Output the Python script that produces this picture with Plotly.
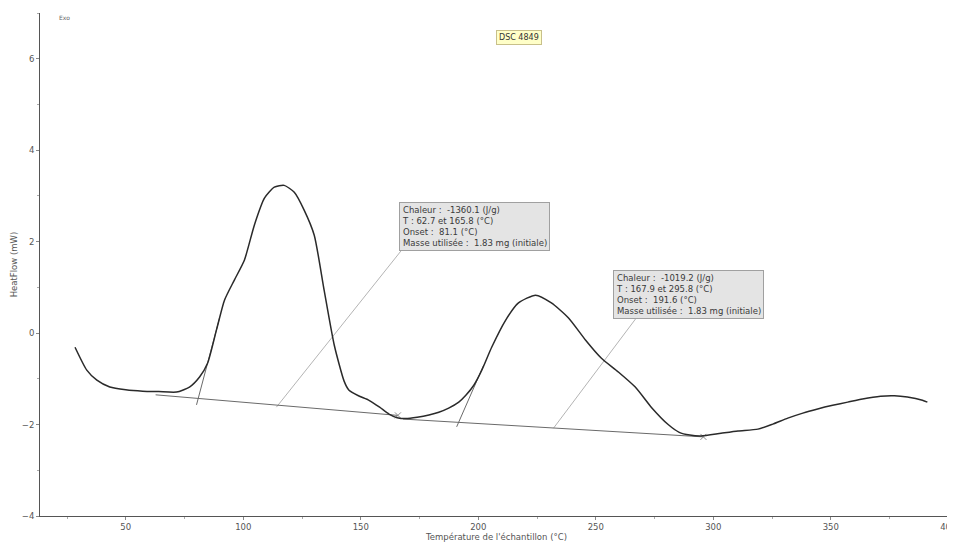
import plotly.graph_objects as go

# Main DSC curve
temp = [28.4, 33.4, 37.7, 43.2, 50.0, 57.2, 64.0, 71.6, 77.1, 81.4, 84.8, 88.6, 92.0, 96.2,
        100.5, 104.7, 109.0, 113.2, 117.4, 121.7, 125.9, 130.2, 134.4, 138.7, 142.9, 145.0,
        149.0, 153.5, 158.0, 162.0, 165.5, 169.2, 174.0, 179.0, 183.2, 187.4, 191.7, 194.7,
        198.1, 201.5, 205.7, 211.6, 217.1, 224.4, 231.1, 238.4, 245.6, 252.4, 259.6, 266.8,
        273.6, 280.8, 285.5, 290.0, 294.8, 303.3, 310.5, 319.0, 325.3, 331.7, 338.1, 344.4,
        350.8, 357.2, 363.5, 371.2, 377.1, 382.6, 389.0, 391.1]
heatflow = [-0.31, -0.81, -1.03, -1.18, -1.24, -1.27, -1.28, -1.29, -1.18, -0.96, -0.66, 0.07,
            0.72, 1.16, 1.60, 2.36, 2.95, 3.19, 3.23, 3.08, 2.69, 2.14, 0.94, -0.26, -1.05,
            -1.25, -1.37, -1.47, -1.62, -1.77, -1.85, -1.87, -1.84, -1.79, -1.73, -1.64, -1.51,
            -1.36, -1.14, -0.81, -0.31, 0.28, 0.66, 0.83, 0.66, 0.33, -0.15, -0.55, -0.85,
            -1.18, -1.62, -2.00, -2.17, -2.23, -2.25, -2.19, -2.14, -2.10, -1.99, -1.86, -1.75,
            -1.66, -1.58, -1.51, -1.44, -1.38, -1.37, -1.40, -1.47, -1.51]

# Integration baselines (start/end of each peak)
base1_x = [62.7, 165.8]
base1_y = [-1.35, -1.80]
base2_x = [167.9, 295.8]
base2_y = [-1.88, -2.27]

# Onset tangents
tan1_x = [80.1, 89.9]
tan1_y = [-1.57, 0.33]
tan2_x = [190.8, 202.3]
tan2_y = [-2.05, -0.70]

# Annotation connectors
con1_x = [168.4, 114.1]
con1_y = [1.88, -1.62]
con2_x = [268.1, 232.0]
con2_y = [0.39, -2.08]

box1_text = ["Chaleur :  -1360.1 (J/g)", "T : 62.7 et 165.8 (°C)", "Onset :  81.1 (°C)",
             "Masse utilisée :  1.83 mg (initiale)"]
box2_text = ["Chaleur :  -1019.2 (J/g)", "T : 167.9 et 295.8 (°C)", "Onset :  191.6 (°C)",
             "Masse utilisée :  1.83 mg (initiale)"]
box1_pos = (166.2, 2.86)
box2_pos = (257.5, 1.38)

x_ticks = [50, 100, 150, 200, 250, 300, 350, 400]
y_ticks = [-4, -2, 0, 2, 4, 6]

fig = go.Figure()
thin = dict(color="#6a6a6a", width=1)
conn = dict(color="#b4b4b4", width=1)
fig.add_trace(go.Scatter(x=con1_x, y=con1_y, mode="lines", line=conn, hoverinfo="skip"))
fig.add_trace(go.Scatter(x=con2_x, y=con2_y, mode="lines", line=conn, hoverinfo="skip"))
fig.add_trace(go.Scatter(x=base1_x, y=base1_y, mode="lines", line=thin, hoverinfo="skip"))
fig.add_trace(go.Scatter(x=base2_x, y=base2_y, mode="lines", line=thin, hoverinfo="skip"))
fig.add_trace(go.Scatter(x=tan1_x, y=tan1_y, mode="lines", line=thin, hoverinfo="skip"))
fig.add_trace(go.Scatter(x=tan2_x, y=tan2_y, mode="lines", line=thin, hoverinfo="skip"))
fig.add_trace(go.Scatter(x=[base1_x[1], base2_x[1]], y=[base1_y[1], base2_y[1]], mode="markers",
                         marker=dict(symbol="x-thin", size=6, line=dict(color="#8a8a8a", width=1)),
                         hoverinfo="skip"))
fig.add_trace(go.Scatter(x=temp, y=heatflow, mode="lines",
                         line=dict(color="#2a2a2a", width=1.5, shape="spline", smoothing=0.6)))

ann_font = dict(family="DejaVu Sans, sans-serif", size=8.5, color="#3a3a3a")
for txt, pos in [(box1_text, box1_pos), (box2_text, box2_pos)]:
    fig.add_annotation(x=pos[0], y=pos[1], xref="x", yref="y", xanchor="left", yanchor="top",
                       text="<br>".join(txt), showarrow=False, align="left", font=ann_font,
                       bgcolor="#e4e4e4", bordercolor="#a0a0a0", borderwidth=1, borderpad=2)

fig.add_annotation(x=0.525, y=0.966, xref="paper", yref="paper", text="DSC 4849", showarrow=False,
                   font=dict(family="DejaVu Sans, sans-serif", size=8, color="#333"),
                   bgcolor="#ffffc8", bordercolor="#c8c08a", borderwidth=1, borderpad=2)
fig.add_annotation(x=0.019, y=0.992, xref="paper", yref="paper", text="Exo", showarrow=False,
                   xanchor="left", yanchor="middle",
                   font=dict(family="DejaVu Sans, sans-serif", size=6, color="#666"))

axis_font = dict(family="DejaVu Sans, sans-serif", size=8.5, color="#555")
# The page body adds an 8px offset, so the figure is sized to fill 955x544 from there
fig.update_layout(
    width=947, height=536, margin=dict(l=32, r=2, t=5, b=28),
    paper_bgcolor="white", plot_bgcolor="white", showlegend=False,
    xaxis=dict(range=[13.5, 402], tickvals=x_ticks, ticks="outside", ticklen=3, tickcolor="#888",
               showgrid=False, zeroline=False, showline=True, linecolor="#555", linewidth=1,
               tickfont=axis_font, automargin=False, ticklabeloverflow="allow",
               minor=dict(dtick=25, tick0=0, ticks="outside", ticklen=2, tickcolor="#aaa"),
               title=dict(text="Température de l'échantillon (°C)", font=axis_font, standoff=0)),
    yaxis=dict(range=[-4, 7], tickvals=y_ticks, ticks="outside", ticklen=3, tickcolor="#888",
               showgrid=False, zeroline=False, showline=True, linecolor="#555", linewidth=1,
               tickfont=axis_font, automargin=False, ticklabeloverflow="allow",
               minor=dict(dtick=1, tick0=0, ticks="outside", ticklen=2, tickcolor="#aaa"),
               title=dict(text="HeatFlow (mW)", font=axis_font, standoff=2)),
)
fig.write_html("out.html")
